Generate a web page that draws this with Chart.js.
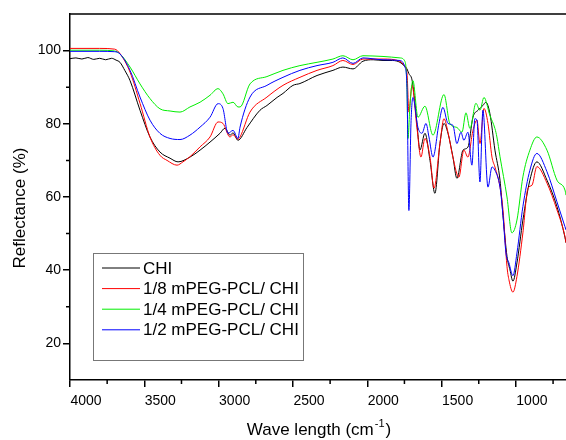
<!DOCTYPE html>
<html>
<head>
<meta charset="utf-8">
<script src="https://cdn.jsdelivr.net/npm/chart.js@4"></script>
<style>
  body { margin: 0; background: #fff; }
  #wrap { width: 566px; height: 440px; }
</style>
</head>
<body>
<div id="wrap"><canvas id="myChart"></canvas></div>
<script>
// datos (cm-1 , %)
const chiWn = [4000,3960,3920,3880,3840,3800,3760,3720,3690,3664,
  3630,3596,3529,3462,3395,3327,3273,3193,3125,3058,
  2991,2957,2924,2903,2870,2809,2722,2675,2607,2567,
  2500,2453,2338,2231,2164,2096,2029,1960,1894,1830,
  1780,1753,1733,1720,1699,1680,1659,1646,1612,1578,
  1545,1511,1484,1457,1424,1397,1356,1323,1289,1255,
  1222,1202,1175,1141,1107,1087,1060,1040,1020,993,
  953,906,859,791,724,670,663];
const chiR = [97.8,98.0,97.7,98.1,97.6,97.9,97.5,97.9,97.4,96.8,
  94.5,91.8,83.7,76.4,72.3,70.6,69.6,70.9,72.8,75,
  77.4,78.8,76.9,77.5,75.5,79,83.7,85,87.2,88.3,
  90.5,91,93.2,94.6,95.5,95,97.1,97.5,97.3,97.3,
  96.8,95.9,95,93.7,92,86,77,72.8,77.4,70,
  61,74.6,80.1,77.4,71,65.1,72.8,73.6,81.8,83.7,
  85,85.9,82.8,72.8,64.6,55,43.8,40.1,37,42,
  53.7,64.6,69.6,64.6,57.4,49,47.5];

const pcl8Wn = [4000,3800,3700,3664,3596,3529,3462,3395,3347,3280,
  3240,3193,3125,3058,3004,2971,2924,2903,2870,2856,
  2789,2675,2567,2453,2338,2231,2164,2096,2029,1894,
  1780,1753,1733,1720,1699,1666,1639,1612,1578,1551,
  1511,1484,1457,1424,1384,1350,1323,1289,1262,1242,
  1215,1188,1161,1141,1107,1087,1060,1047,1020,993,
  953,919,892,859,791,724,670,663];
const pcl8R = [100.6,100.6,100.4,99.2,94.1,85.6,76.4,71.4,70,68.7,
  69.6,71,73.7,76.4,80.5,80.1,76.4,77,75.8,76.4,
  83.2,87.3,90.5,92.7,94.6,95.9,97.3,96.2,97.7,97.7,
  97.1,96,94,83.2,90.5,79,70.9,76,70.9,62.4,
  74.6,81.4,77.7,70.9,65.4,72.8,70.9,78.2,81,74.6,
  84.2,80.1,70.9,68.2,62.7,56.5,41,37.4,34,38.3,
  50.2,62.4,63.2,68.3,63.8,56.5,49.2,47.5];

const pcl4Wn = [4000,3800,3700,3664,3596,3529,3462,3395,3327,3260,
  3193,3125,3058,3004,2971,2937,2903,2870,2856,2789,
  2675,2567,2453,2338,2231,2164,2096,2029,1894,1780,
  1746,1733,1726,1713,1693,1659,1612,1558,1484,1444,
  1397,1363,1336,1309,1269,1242,1215,1175,1141,1128,
  1107,1060,1027,993,953,906,859,791,724,670,
  663];
const pcl4R = [100.1,100.1,99.9,99.1,95.5,90.9,86.9,84.1,83.5,83.2,
  84.6,85.9,87.8,89.6,88.2,85.5,85.9,84.6,84.6,90.9,
  92.9,94.6,95.9,96.8,97.7,98.6,97.5,98.6,98.4,98,
  97,90,76,85,91.8,81.8,84.8,76.9,88,80,
  79,77.7,83,78.7,85.6,83.7,87.2,82.3,78.7,76.4,
  71,60,50.2,53.7,65.5,72.8,76.4,72.8,64.6,61.9,
  60.5];

const pcl2Wn = [4000,3800,3700,3664,3596,3529,3462,3395,3327,3260,
  3193,3125,3058,3004,2971,2937,2903,2870,2856,2789,
  2675,2567,2453,2338,2231,2164,2096,2029,1894,1780,
  1746,1733,1720,1706,1693,1659,1632,1605,1585,1558,
  1518,1491,1457,1424,1397,1370,1350,1323,1296,1276,
  1262,1242,1222,1188,1161,1141,1107,1087,1067,1047,
  1020,993,953,906,859,791,724,670,663];
const pcl2R = [99.8,99.8,99.7,99.1,94.6,87.3,81,77.4,76,75.7,
  76.9,79.1,81.8,85.5,84.2,77.4,78.2,76,79.1,87.3,
  90.5,92.7,94.6,95.9,96.8,98,96.5,98,97.5,97.3,
  95.4,90,56.3,80,87.2,79,77.4,80.1,76.4,70.9,
  80,84.5,80.1,79.6,74.6,77.7,75.5,77.7,68.7,81.4,
  81,64.1,83.7,62.7,68.2,67.3,62.7,55,44.7,42,
  38.5,44.7,57.4,67.3,71.9,66.9,58.7,51.9,51];

const labels = ["CHI", "1/8 mPEG-PCL/ CHI", "1/4 mPEG-PCL/ CHI", "1/2 mPEG-PCL/ CHI"];
const colores = ["#000000", "#ff0000", "#00ee00", "#0000ff"];

const xTicks = [4000, 3500, 3000, 2500, 2000, 1500, 1000];
const xMinor = [3750, 3250, 2750, 2250, 1750, 1250, 750];
const yTicks = [20, 40, 60, 80, 100];
const yMinor = [30, 50, 70, 90];

const FONT = "'Liberation Sans', Arial, sans-serif";

function puntos(wn, r) {
  return wn.map((x, i) => ({ x: x, y: r[i] }));
}

const series = [[chiWn, chiR], [pcl8Wn, pcl8R], [pcl4Wn, pcl4R], [pcl2Wn, pcl2R]];

// ticks menores, borde de arriba, titulos y leyenda
const extras = {
  id: 'extras',
  afterDraw(chart) {
    const ctx = chart.ctx;
    const a = chart.chartArea;
    const xs = chart.scales.x, ys = chart.scales.y;
    ctx.save();
    ctx.strokeStyle = '#000';
    ctx.lineWidth = 1.5;
    ctx.beginPath();
    ctx.moveTo(a.left, a.top);
    ctx.lineTo(a.right, a.top);
    xMinor.forEach(v => {
      const p = xs.getPixelForValue(v);
      ctx.moveTo(p, a.bottom);
      ctx.lineTo(p, a.bottom + 4);
    });
    yMinor.forEach(v => {
      const p = ys.getPixelForValue(v);
      ctx.moveTo(a.left, p);
      ctx.lineTo(a.left - 4, p);
    });
    ctx.stroke();

    // titulo eje y
    ctx.fillStyle = '#000';
    ctx.font = '17px ' + FONT;
    ctx.textAlign = 'center';
    ctx.textBaseline = 'middle';
    ctx.save();
    ctx.translate(20, 208);
    ctx.rotate(-Math.PI / 2);
    ctx.fillText('Reflectance (%)', 0, 0);
    ctx.restore();

    // titulo eje x con superindice
    const t1 = 'Wave length (cm', sup = '-1', t2 = ')';
    ctx.font = '17px ' + FONT;
    const w1 = ctx.measureText(t1).width, w3 = ctx.measureText(t2).width;
    ctx.font = '11px ' + FONT;
    const w2 = ctx.measureText(sup).width;
    let x0 = 318 - (w1 + w2 + w3) / 2;
    ctx.textAlign = 'left';
    ctx.textBaseline = 'alphabetic';
    ctx.font = '17px ' + FONT;
    ctx.fillText(t1, x0, 435);
    ctx.font = '11px ' + FONT;
    ctx.fillText(sup, x0 + w1 + 1, 427);
    ctx.font = '17px ' + FONT;
    ctx.fillText(t2, x0 + w1 + w2 + 2, 435);

    // leyenda
    ctx.fillStyle = '#fff';
    ctx.fillRect(93, 253, 210, 107);
    ctx.strokeStyle = '#777';
    ctx.lineWidth = 1;
    ctx.strokeRect(93.5, 253.5, 210, 107);
    ctx.font = '17px ' + FONT;
    ctx.textBaseline = 'middle';
    labels.forEach((lab, i) => {
      const y = 268 + i * 20.6;
      ctx.strokeStyle = colores[i];
      ctx.beginPath();
      ctx.moveTo(102, y);
      ctx.lineTo(140, y);
      ctx.stroke();
      ctx.fillStyle = '#000';
      ctx.fillText(lab, 143, y + 1);
    });
    ctx.restore();
  }
};

const ctx = document.getElementById('myChart');

new Chart(ctx, {
  type: 'line',
  data: {
    datasets: series.map((s, i) => ({
      label: labels[i],
      data: puntos(s[0], s[1]),
      borderColor: colores[i],
      borderWidth: 1,
      pointRadius: 0,
      cubicInterpolationMode: 'monotone',
      order: 4 - i
    }))
  },
  options: {
    responsive: true,
    maintainAspectRatio: false,
    animation: false,
    layout: { padding: { top: 14, right: 0, left: 0, bottom: 0 } },
    plugins: { legend: { display: false }, tooltip: { enabled: false } },
    scales: {
      x: {
        type: 'linear',
        reverse: true,
        min: 663,
        max: 4000,
        afterBuildTicks: (scale) => { scale.ticks = xTicks.map(v => ({ value: v })); },
        afterFit: (scale) => { scale.height = 60; },
        ticks: {
          color: '#000',
          font: { size: 14, family: FONT },
          padding: 6,
          labelOffset: 16,
          maxRotation: 0,
          callback: (v) => v
        },
        grid: { drawOnChartArea: false, tickLength: 7, color: '#000', lineWidth: 1.5 },
        border: { color: '#000', width: 1.5 }
      },
      y: {
        min: 10,
        max: 110,
        afterBuildTicks: (scale) => { scale.ticks = yTicks.map(v => ({ value: v })); },
        afterFit: (scale) => { scale.width = 70; },
        ticks: {
          color: '#000',
          font: { size: 14, family: FONT },
          padding: 2
        },
        grid: { drawOnChartArea: false, tickLength: 7, color: '#000', lineWidth: 1.5 },
        border: { color: '#000', width: 1.5 }
      }
    }
  },
  plugins: [extras]
});
</script>
</body>
</html>
